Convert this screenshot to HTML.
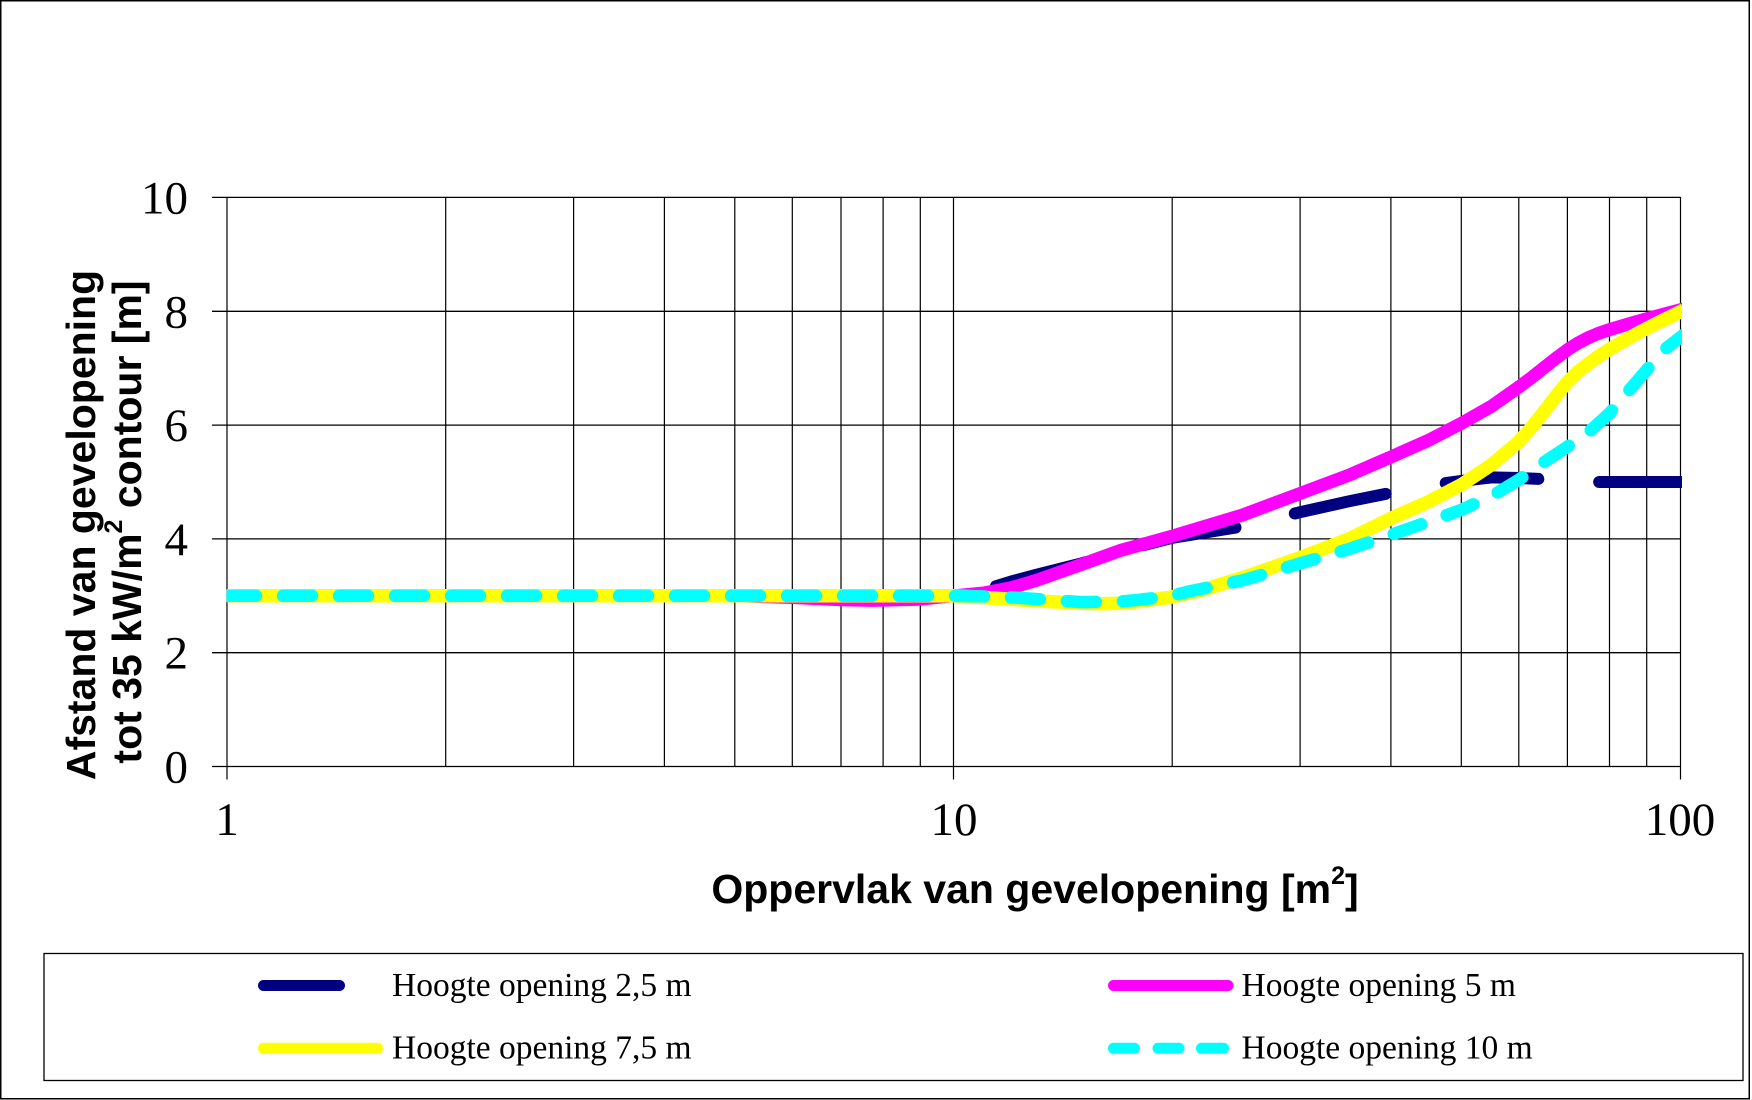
<!DOCTYPE html>
<html>
<head>
<meta charset="utf-8">
<style>
  html, body { margin: 0; padding: 0; background: #fff; }
  svg { display: block; }
  .tick { font-family: "Liberation Serif", "Times New Roman", serif; font-size: 47px; fill: #000; }
  .title { font-family: "Liberation Sans", Arial, sans-serif; font-weight: bold; font-size: 41px; fill: #000; }
  .leg { font-family: "Liberation Serif", "Times New Roman", serif; font-size: 33.5px; fill: #000; }
</style>
</head>
<body>
<svg width="1752" height="1100" viewBox="0 0 1752 1100" xmlns="http://www.w3.org/2000/svg">
  <rect x="0" y="0" width="1752" height="1100" fill="#fff"/>
  <rect x="0.75" y="0.75" width="1748.5" height="1098" fill="none" stroke="#000" stroke-width="1.5"/>

  <defs>
    <clipPath id="plotclip">
      <rect x="226.5" y="150" width="1455.5" height="640"/>
    </clipPath>
  </defs>

  <g stroke="#000" stroke-width="1.3" fill="none">
    <line x1="212" y1="197.4" x2="1680.5" y2="197.4"/>
    <line x1="212" y1="311.3" x2="1680.5" y2="311.3"/>
    <line x1="212" y1="425.1" x2="1680.5" y2="425.1"/>
    <line x1="212" y1="538.9" x2="1680.5" y2="538.9"/>
    <line x1="212" y1="652.7" x2="1680.5" y2="652.7"/>
    <line x1="212" y1="766.5" x2="1680.5" y2="766.5"/>
  </g>
  <g stroke="#000" stroke-width="1.2" fill="none">
    <line x1="227" y1="197" x2="227" y2="779.5"/>
    <line x1="445.7" y1="197" x2="445.7" y2="766.5"/>
    <line x1="573.6" y1="197" x2="573.6" y2="766.5"/>
    <line x1="664.4" y1="197" x2="664.4" y2="766.5"/>
    <line x1="734.8" y1="197" x2="734.8" y2="766.5"/>
    <line x1="792.3" y1="197" x2="792.3" y2="766.5"/>
    <line x1="841.0" y1="197" x2="841.0" y2="766.5"/>
    <line x1="883.1" y1="197" x2="883.1" y2="766.5"/>
    <line x1="920.3" y1="197" x2="920.3" y2="766.5"/>
    <line x1="953.5" y1="197" x2="953.5" y2="779.5"/>
    <line x1="1172.2" y1="197" x2="1172.2" y2="766.5"/>
    <line x1="1300.1" y1="197" x2="1300.1" y2="766.5"/>
    <line x1="1390.9" y1="197" x2="1390.9" y2="766.5"/>
    <line x1="1461.3" y1="197" x2="1461.3" y2="766.5"/>
    <line x1="1518.8" y1="197" x2="1518.8" y2="766.5"/>
    <line x1="1567.4" y1="197" x2="1567.4" y2="766.5"/>
    <line x1="1609.5" y1="197" x2="1609.5" y2="766.5"/>
    <line x1="1646.7" y1="197" x2="1646.7" y2="766.5"/>
    <line x1="1680.5" y1="197" x2="1680.5" y2="779.5"/>
  </g>

  <g clip-path="url(#plotclip)" fill="none" stroke-linejoin="round">
    <path stroke="#000080" stroke-width="12" stroke-linecap="round" stroke-dasharray="93 61"
      d="M227,595.8 L953.5,595.8 L983.6,590.1 L1011,581.6 L1036.3,574.8 L1081.4,563.4 L1120.9,552 L1139,546.3 L1172.2,537.8 L1242.6,526.4 L1300.1,512.2 L1348.8,501.3 L1390.9,492.8 L1428.1,485.4 L1461.3,480.9 L1491.4,477.4 L1518.9,478 L1544.1,479.2 L1567.4,482 L1684,482"/>
    <path stroke="#FF00FF" stroke-width="13" stroke-linecap="butt"
      d="M227,595.8 L734.8,595.8 L792.3,597.5 L841,599.8 L871,600.4 L920.3,599.2 L953.5,595.8 L983.6,593 L1011,587.8 L1036.3,580.4 L1081.4,564.5 L1120.9,550.3 L1172.2,536.1 L1242.6,515 L1300.1,493.4 L1348.8,475.2 L1390.9,457 L1428.1,440.5 L1461.3,423.4 L1491.4,406.3 L1518.9,387 L1531.7,377.5 L1544.1,367.6 L1556,358.2 L1567.4,349.8 L1578.5,342.8 L1589.3,337.2 L1599.6,332.9 L1609.6,329.6 L1628.7,323.8 L1646.7,318.7 L1663.8,314.1 L1684,308.8"/>
    <path stroke="#FFFF00" stroke-width="13.5" stroke-linecap="butt"
      d="M227,595.8 L953.5,595.8 L983.6,597.5 L1011,599.2 L1036.3,600.9 L1081.4,603.2 L1101.8,603.8 L1120.9,603.2 L1139,601.5 L1172.2,596.9 L1202.3,590.1 L1242.6,577.6 L1300.1,557.7 L1348.8,538.9 L1390.9,518.4 L1428.1,501.9 L1461.3,484.8 L1491.4,464.9 L1518.9,441.5 L1531.7,427.2 L1544.1,411.6 L1556,396 L1567.4,382 L1578.5,371.2 L1589.3,363 L1599.6,355.5 L1609.6,349.2 L1628.7,338 L1646.7,328.4 L1663.8,319.8 L1684,310"/>
    <path stroke="#00FFFF" stroke-width="12.5" stroke-linecap="round" stroke-dasharray="29 27"
      d="M227,595.8 L953.5,595.8 L983.6,596.4 L1024,598.1 L1081.4,602.1 L1120.9,601.5 L1139,599.8 L1172.2,595.8 L1187.6,591.8 L1242.6,580.4 L1300.1,563.4 L1348.8,549.1 L1390.9,534.9 L1428.1,521.8 L1461.3,509.9 L1491.4,496.2 L1518.9,479.7 L1544.1,462.1 L1567.4,446.7 L1589.3,431.5 L1609.6,413.2 L1628.7,390.8 L1646.7,369.9 L1663.8,350 L1684,334.5"/>
  </g>

  <g class="tick" text-anchor="end">
    <text x="188" y="213.5">10</text>
    <text x="188" y="327.3">8</text>
    <text x="188" y="441.1">6</text>
    <text x="188" y="554.9">4</text>
    <text x="188" y="668.7">2</text>
    <text x="188" y="782.5">0</text>
  </g>
  <g class="tick" text-anchor="middle">
    <text x="227" y="835">1</text>
    <text x="954" y="835">10</text>
    <text x="1680" y="835">100</text>
  </g>

  <text class="title" x="1035" y="903" text-anchor="middle">Oppervlak van gevelopening [m<tspan font-size="25" dy="-19">2</tspan><tspan dy="19">]</tspan></text>
  <text class="title" transform="translate(95,525) rotate(-90)" text-anchor="middle">Afstand van gevelopening</text>
  <text class="title" transform="translate(141,522) rotate(-90)" text-anchor="middle">tot 35 kW/m<tspan font-size="25" dy="-19">2</tspan><tspan dy="19"> contour [m]</tspan></text>

  <rect x="44" y="953.5" width="1699" height="127" fill="none" stroke="#000" stroke-width="1.3"/>
  <g fill="none" stroke-width="11" stroke-linecap="round">
    <line x1="263.5" y1="985.5" x2="339.5" y2="985.5" stroke="#000080"/>
    <line x1="263.5" y1="1048.3" x2="377.5" y2="1048.3" stroke="#FFFF00"/>
    <line x1="1113.5" y1="985.5" x2="1228" y2="985.5" stroke="#FF00FF"/>
    <line x1="1113.5" y1="1048.3" x2="1134.5" y2="1048.3" stroke="#00FFFF"/>
    <line x1="1158" y1="1048.3" x2="1179" y2="1048.3" stroke="#00FFFF"/>
    <line x1="1201.5" y1="1048.3" x2="1223.5" y2="1048.3" stroke="#00FFFF"/>
  </g>
  <g class="leg">
    <text x="392" y="996">Hoogte opening 2,5 m</text>
    <text x="392" y="1058.5">Hoogte opening 7,5 m</text>
    <text x="1241.5" y="996">Hoogte opening 5 m</text>
    <text x="1241.5" y="1058.5">Hoogte opening 10 m</text>
  </g>
</svg>
</body>
</html>
